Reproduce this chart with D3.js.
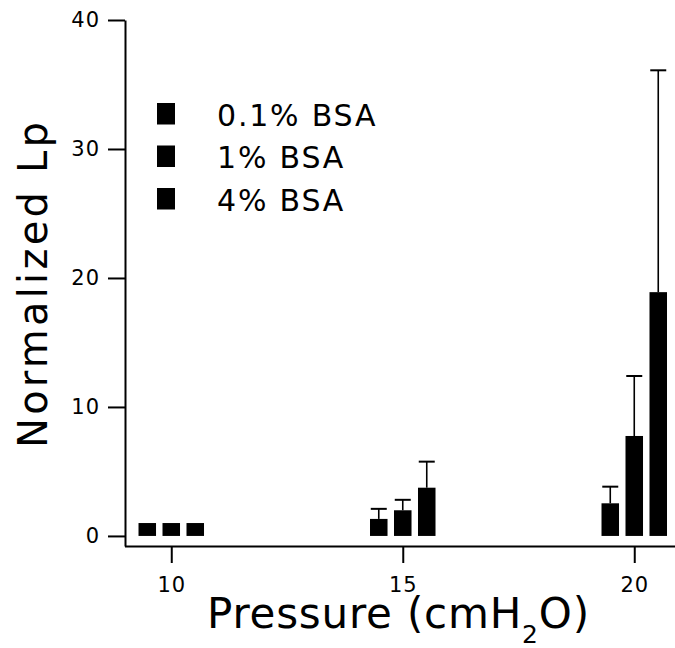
<!DOCTYPE html>
<html>
<head>
<meta charset="utf-8">
<script src="https://cdn.jsdelivr.net/npm/d3@7"></script>
<style>
  body { margin: 0; background: #fff; }
  text { font-family: "DejaVu Sans", sans-serif; fill: #000; }
</style>
</head>
<body>
<svg id="chart" width="675" height="648"></svg>
<script>
// pressure groups (cmH2O) and BSA concentrations
const pressures = [10, 15, 20];
const series = ["0.1% BSA", "1% BSA", "4% BSA"];

// normalized Lp, one array per series (values at 10, 15, 20 cmH2O)
const bsa01 = [1.0, 1.32, 2.53];
const bsa1 = [1.0, 1.99, 7.75];
const bsa4 = [1.0, 3.74, 18.9];

// standard deviations (error bar above bar)
const bsa01Err = [0, 0.78, 1.29];
const bsa1Err = [0, 0.81, 4.65];
const bsa4Err = [0, 2.02, 17.2];

const yTicks = [0, 10, 20, 30, 40];
const xTicks = [10, 15, 20];

const values = [bsa01, bsa1, bsa4];
const errors = [bsa01Err, bsa1Err, bsa4Err];

const data = [];
series.forEach((s, i) => {
  pressures.forEach((p, j) => {
    data.push({series: s, pressure: p, value: values[i][j], err: errors[i][j]});
  });
});

const svg = d3.select("#chart");

// scales
const x = d3.scaleLinear().domain([8.99, 20.88]).range([124.5, 675]);
const y = d3.scaleLinear().domain([-0.78, 40]).range([546, 20]);
const x1 = d3.scaleBand().domain(series).range([-32.75, 32.75]).paddingInner(0.27);

// axes
const yAxis = svg.append("g")
  .attr("transform", "translate(125,0)")
  .call(d3.axisLeft(y).tickValues(yTicks).tickSize(17).tickPadding(8).tickSizeOuter(0));

const xAxis = svg.append("g")
  .attr("transform", "translate(0,546)")
  .call(d3.axisBottom(x).tickValues(xTicks).tickSize(17).tickPadding(14).tickSizeOuter(0));

[yAxis, xAxis].forEach(g => {
  g.selectAll("path, line").attr("stroke", "#000").attr("stroke-width", 2);
  g.selectAll("text")
    .attr("font-size", 21)
    .attr("letter-spacing", 1)
    .attr("font-family", "DejaVu Sans")
    .attr("fill", "#000");
});

// bars
svg.append("g").selectAll("rect")
  .data(data)
  .enter()
  .append("rect")
  .attr("x", d => x(d.pressure) + x1(d.series))
  .attr("width", x1.bandwidth())
  .attr("y", d => y(d.value))
  .attr("height", d => y(0) - y(d.value))
  .attr("fill", "#000");

// error bars
const errG = svg.append("g").selectAll("g")
  .data(data.filter(d => d.err > 0))
  .enter()
  .append("g")
  .attr("transform", d => `translate(${x(d.pressure) + x1(d.series) + x1.bandwidth() / 2},0)`);

errG.append("line")
  .attr("x1", 0).attr("x2", 0)
  .attr("y1", d => y(d.value))
  .attr("y2", d => y(d.value + d.err))
  .attr("stroke", "#000").attr("stroke-width", 1.6);

errG.append("line")
  .attr("x1", -8).attr("x2", 8)
  .attr("y1", d => y(d.value + d.err))
  .attr("y2", d => y(d.value + d.err))
  .attr("stroke", "#000").attr("stroke-width", 2);

// legend
const legend = svg.append("g");
series.forEach((s, i) => {
  const base = 125.5 + i * 42.5;
  legend.append("rect")
    .attr("x", 157).attr("y", base - 22.5)
    .attr("width", 18).attr("height", 21.5)
    .attr("fill", "#000");
  legend.append("text")
    .attr("x", 217).attr("y", base)
    .attr("font-size", 30)
    .attr("letter-spacing", 1.8)
    .text(s);
});

// y label
svg.append("text")
  .attr("transform", "translate(47,285) rotate(-90)")
  .attr("text-anchor", "middle")
  .attr("font-size", 40)
  .attr("textLength", 326)
  .attr("lengthAdjust", "spacing")
  .text("Normalized Lp");

// x label
const xl = svg.append("text")
  .attr("x", 207).attr("y", 628)
  .attr("font-size", 42)
  .attr("letter-spacing", 0.8);
xl.append("tspan").text("Pressure (cmH");
xl.append("tspan").attr("font-size", 25).attr("dy", 15).text("2");
xl.append("tspan").attr("dy", -15).text("O)");
</script>
</body>
</html>
